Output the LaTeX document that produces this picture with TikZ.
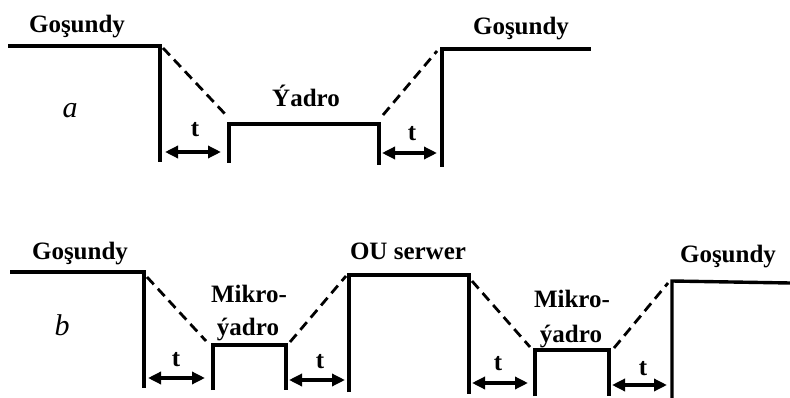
\documentclass[tikz,border=0pt]{standalone}
\usepackage{fontspec}
\setmainfont{Liberation Serif}[BoldFont={Liberation Serif Bold},ItalicFont={Liberation Serif Italic}]
\usetikzlibrary{arrows.meta}
\begin{document}
\begin{tikzpicture}[x=1pt,y=-1pt,
  wall/.style={line width=3.4pt,line join=miter},
  slope/.style={line width=2.8pt,dash pattern=on 10pt off 6pt},
  gap/.style={line width=3.8pt,{Triangle[length=13pt,width=12pt]}-{Triangle[length=13pt,width=12pt]}},
  lbl/.style={font=\fontsize{25}{28}\selectfont\bfseries,inner sep=0pt,anchor=base},
  case/.style={font=\fontsize{30}{32}\selectfont\itshape,inner sep=0pt,anchor=base}]
\useasboundingbox (0,0) rectangle (790,398);

% ---------------- (a) one core between two sheep ----------------
\coordinate (a1) at (8,46);    \coordinate (a2) at (160,46);  \coordinate (a3) at (160,162);
\coordinate (a4) at (229,163); \coordinate (a5) at (229,124); \coordinate (a6) at (379,124); \coordinate (a7) at (379,165);
\coordinate (a8) at (442,167); \coordinate (a9) at (442,49);  \coordinate (a10) at (591,49);
\coordinate (ad1s) at (163,48); \coordinate (ad1e) at (226,115);
\coordinate (ad2s) at (383,115); \coordinate (ad2e) at (437,51);
\coordinate (at1s) at (165,152); \coordinate (at1e) at (221,152);
\coordinate (at2s) at (382,153); \coordinate (at2e) at (437,153);

\draw[wall] (a1) -- (a2) -- (a3);
\draw[wall] (a4) -- (a5) -- (a6) -- (a7);
\draw[wall] (a8) -- (a9) -- (a10);
\draw[slope] (ad1s) -- (ad1e);
\draw[slope] (ad2s) -- (ad2e);
\draw[gap] (at1s) -- (at1e);
\draw[gap] (at2s) -- (at2e);

\node[lbl] (ga1) at (77,33) {Goşundy};
\node[lbl] (ga2) at (521,35) {Goşundy};
\node[lbl] (core) at (306,107) {Ýadro};
\node[lbl] (ta1) at (195,137) {t};
\node[lbl] (ta2) at (412,141) {t};
\node[case] (casea) at (70,118) {a};

% ---------------- (b) micro-cores and an OS server ----------------
\coordinate (b1) at (10,272);   \coordinate (b2) at (144,272);  \coordinate (b3) at (144,388);
\coordinate (b4) at (213,390);  \coordinate (b5) at (213,345);  \coordinate (b6) at (286,345); \coordinate (b7) at (286,390);
\coordinate (b8) at (349,392);  \coordinate (b9) at (349,275);  \coordinate (b10) at (469,275); \coordinate (b11) at (469,394);
\coordinate (b12) at (535,396); \coordinate (b13) at (535,350); \coordinate (b14) at (609,350); \coordinate (b15) at (609,396);
\coordinate (b16) at (672,398); \coordinate (b17) at (672,281); \coordinate (b18) at (790,283);
\coordinate (bd1s) at (147,277); \coordinate (bd1e) at (206,341);
\coordinate (bd2s) at (290,342); \coordinate (bd2e) at (346,276);
\coordinate (bd3s) at (472,281); \coordinate (bd3e) at (530,347);
\coordinate (bd4s) at (614,348); \coordinate (bd4e) at (668,283);
\coordinate (bt1s) at (148,378); \coordinate (bt1e) at (205,378);
\coordinate (bt2s) at (289,380); \coordinate (bt2e) at (345,380);
\coordinate (bt3s) at (472,383); \coordinate (bt3e) at (528,383);
\coordinate (bt4s) at (612,385); \coordinate (bt4e) at (667,385);

\draw[wall] (b1) -- (b2) -- (b3);
\draw[wall] (b4) -- (b5) -- (b6) -- (b7);
\draw[wall] (b8) -- (b9) -- (b10) -- (b11);
\draw[wall] (b12) -- (b13) -- (b14) -- (b15);
\draw[wall] (b16) -- (b17) -- (b18);
\draw[slope] (bd1s) -- (bd1e);
\draw[slope] (bd2s) -- (bd2e);
\draw[slope] (bd3s) -- (bd3e);
\draw[slope] (bd4s) -- (bd4e);
\draw[gap] (bt1s) -- (bt1e);
\draw[gap] (bt2s) -- (bt2e);
\draw[gap] (bt3s) -- (bt3e);
\draw[gap] (bt4s) -- (bt4e);

\node[lbl] (gb1) at (80,260) {Goşundy};
\node[lbl] (srv) at (408,260) {OU serwer};
\node[lbl] (gb2) at (728,262) {Goşundy};
\node[lbl] (m1a) at (249,302) {Mikro-};
\node[lbl] (m1b) at (248,335) {ýadro};
\node[lbl] (m2a) at (572,307) {Mikro-};
\node[lbl] (m2b) at (571,342) {ýadro};
\node[lbl] (tb1) at (176,366) {t};
\node[lbl] (tb2) at (320,368) {t};
\node[lbl] (tb3) at (498,370) {t};
\node[lbl] (tb4) at (643,375) {t};
\node[case] (caseb) at (62,335) {b};
\end{tikzpicture}
\end{document}
